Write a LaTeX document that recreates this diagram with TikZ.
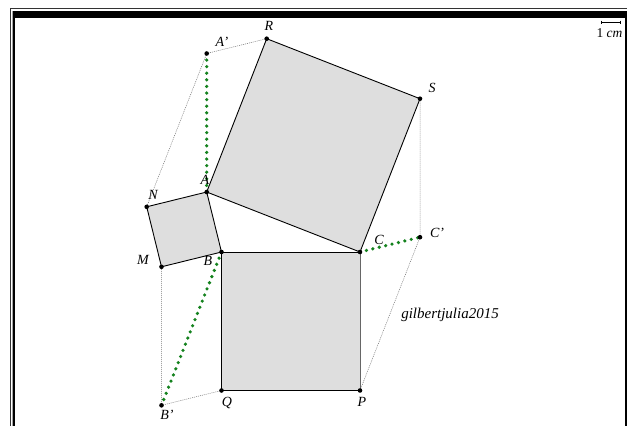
\documentclass[tikz,border=0pt]{standalone}
\usepackage{fontspec}
\setmainfont{Liberation Serif}
\begin{document}
\begin{tikzpicture}[x=1pt,y=-1pt,
  sq/.style={fill=sqgray,draw=black,line width=0.9pt,line join=round},
  gdot/.style={draw=gdotc,line width=3.6pt,line cap=round,dash pattern=on 0pt off 6.6pt},
  thin dots/.style={draw=black!55,line width=0.5pt,dash pattern=on 1pt off 1pt},
  lab/.style={font=\fontsize{14}{16}\selectfont\itshape,inner sep=0pt},
  pt/.style={fill=black}]
\definecolor{sqgray}{RGB}{222,222,222}
\definecolor{gdotc}{RGB}{20,130,30}
\useasboundingbox (0,0) rectangle (627,426);
% frame
\draw[line width=0.8pt,black!80] (10,426) -- (10,8) -- (627,8);
\draw[line width=0.6pt,black!35] (12.5,11) -- (12.5,426);
\draw[line width=1.2pt,black] (14,11) -- (14,426);
\fill[black] (13.4,11) rectangle (627,17.5);
\draw[line width=1.2pt,black] (626,17) -- (626,426);
% points
\coordinate (A) at (206.7,192);
\coordinate (B) at (221.5,252);
\coordinate (C) at (360,252);
\coordinate (P) at (360,390.5);
\coordinate (Q) at (221.5,390.5);
\coordinate (S) at (420,98.7);
\coordinate (R) at (266.7,38.7);
\coordinate (M) at (161.5,266.8);
\coordinate (N) at (146.7,206.8);
\coordinate (A1) at (206.7,53.5);
\coordinate (C1) at (420,237.2);
\coordinate (B1) at (161.5,405.3);
% squares
\path[sq] (A) -- (C) -- (S) -- (R) -- cycle;
\path[sq] (B) -- (C) -- (P) -- (Q) -- cycle;
\draw[black!60,line width=0.9pt] (C) -- (P);
\path[sq] (A) -- (B) -- (M) -- (N) -- cycle;
% parallelogram sides
\draw[thin dots] (N) -- (A1) -- (R);
\draw[thin dots] (S) -- (C1) -- (P);
\draw[thin dots] (M) -- (B1) -- (Q);
% green dotted
\draw[gdot] (A) -- (A1);
\draw[gdot] (C) -- (C1);
\draw[gdot] (B) -- (B1);
% dots
\foreach \p in {A,B,C,P,Q,S,R,M,N,A1,C1,B1} \fill[pt] (\p) circle (2.3pt);
% labels
\node[lab] (lR) at (269,26) {R};
\node[lab] (lA1) at (222,42) {A'};
\node[lab] (lA) at (205,180) {A};
\node[lab] (lN) at (153,195) {N};
\node[lab] (lM) at (143,260) {M};
\node[lab] (lB) at (208,261) {B};
\node[lab] (lC) at (379,240) {C};
\node[lab] (lC1) at (437,233) {C'};
\node[lab] (lQ) at (227,403) {Q};
\node[lab] (lP) at (362,402) {P};
\node[lab] (lB1) at (167,415) {B'};
\node[lab] (lS) at (432,88) {S};
\node[lab,font=\fontsize{15}{17}\selectfont\itshape] (sig) at (450,315) {gilbertjulia2015};
% scale
\node[inner sep=0pt,font=\fontsize{13.5}{15}\selectfont] (scale) at (609.5,33) {1 \textit{cm}};
\draw[line width=0.8pt] (601.5,22) -- (620,22);
\draw[line width=0.5pt] (601.5,20.5) -- (601.5,23.5) (620,20.5) -- (620,23.5);
\end{tikzpicture}
\end{document}
